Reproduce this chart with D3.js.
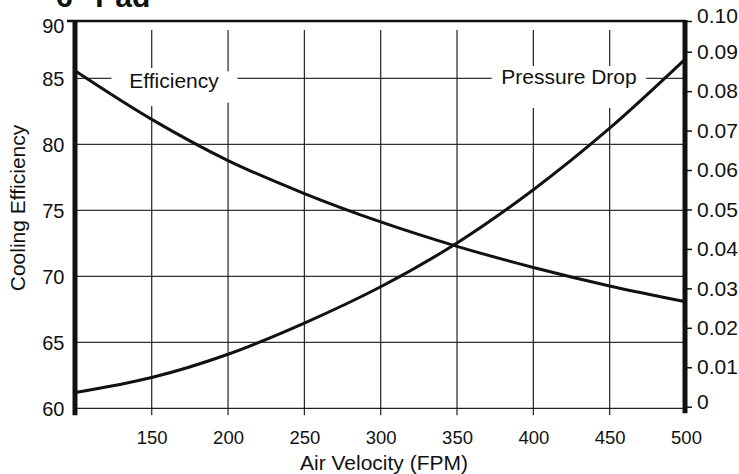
<!DOCTYPE html>
<html>
<head>
<meta charset="utf-8">
<script src="https://cdn.jsdelivr.net/npm/d3@7"></script>
<style>
  html, body { margin: 0; padding: 0; background: #fff; }
  svg { display: block; font-family: "Liberation Sans", Arial, Helvetica, sans-serif; }
</style>
</head>
<body>
<svg id="chart" width="739" height="474"></svg>
<script>
// ---- data ----
const velocity = [100, 150, 200, 250, 300, 350, 400, 450, 500];
const efficiency = [85.64, 81.89, 78.77, 76.27, 74.12, 72.27, 70.67, 69.27, 68.07];
const pressureDrop = [0.0036, 0.0074, 0.0133, 0.0212, 0.0304, 0.0415, 0.0550, 0.0706, 0.0883];
const xTicks = [150, 200, 250, 300, 350, 400, 450, 500];
const xGrid = [150, 200, 250, 300, 350, 400, 450];
const leftTicks = [60, 65, 70, 75, 80, 85, 90];
const leftGrid = [65, 70, 75, 80, 85];
const rightTicks = [0, 0.01, 0.02, 0.03, 0.04, 0.05, 0.06, 0.07, 0.08, 0.09, 0.10];
const title = '6" Pad';
const xTitle = "Air Velocity (FPM)";
const yTitle = "Cooling Efficiency";
const effLabel = "Efficiency";
const pdLabel = "Pressure Drop";

// ---- layout ----
(function () {
const svg = d3.select("#chart");
const xL = 75.4, xR = 686;
const x = d3.scaleLinear().domain([100, 500]).range([xL, xR]);
const yL = d3.scaleLinear().domain([60, 85, 90]).range([408.3, 78.3, 21]);
const yR = d3.scaleLinear().domain([0, 0.09, 0.10]).range([406.7, 51.7, 21]);
const yTop = 21, yBottom = yL(60);
const ink = "#111";

// gridlines
svg.append("g").selectAll("line").data(leftGrid).join("line")
  .attr("x1", xL).attr("x2", xR - 1)
  .attr("y1", d => yL(d)).attr("y2", d => yL(d))
  .attr("stroke", "#333").attr("stroke-width", 1.3);
svg.append("g").selectAll("line").data(xGrid).join("line")
  .attr("x1", d => x(d)).attr("x2", d => x(d))
  .attr("y1", 30).attr("y2", yBottom + 7)
  .attr("stroke", "#222").attr("stroke-width", 1.2);
svg.append("line").attr("x1", xL).attr("x2", xR).attr("y1", yBottom).attr("y2", yBottom)
  .attr("stroke", "#222").attr("stroke-width", 1.3);

// label boxes (white knock-outs)
svg.append("rect").attr("x", 108).attr("y", 68).attr("width", 133).attr("height", 38)
  .attr("rx", 30).attr("ry", 19).attr("fill", "#fff");
svg.append("rect").attr("x", 489).attr("y", 66).attr("width", 160).attr("height", 42)
  .attr("rx", 30).attr("ry", 21).attr("fill", "#fff");

// curves
const effLine = d3.line().x((d, i) => x(velocity[i])).y(d => yL(d)).curve(d3.curveCatmullRom);
const pdLine = d3.line().x((d, i) => x(velocity[i])).y(d => yR(d)).curve(d3.curveCatmullRom);
svg.append("path").attr("d", effLine(efficiency)).attr("fill", "none")
  .attr("stroke", ink).attr("stroke-width", 3);
svg.append("path").attr("d", pdLine(pressureDrop)).attr("fill", "none")
  .attr("stroke", ink).attr("stroke-width", 3);

// frame
svg.append("line").attr("x1", 67).attr("x2", xR).attr("y1", yTop).attr("y2", yTop)
  .attr("stroke", ink).attr("stroke-width", 2.5);
svg.append("line").attr("x1", xL - 0.4).attr("x2", xL - 0.4).attr("y1", yTop - 1).attr("y2", yBottom + 7)
  .attr("stroke", ink).attr("stroke-width", 5);
svg.append("line").attr("x1", 685).attr("x2", 685).attr("y1", yTop - 1).attr("y2", yBottom + 5)
  .attr("stroke", ink).attr("stroke-width", 5);

// axes
const gLeft = svg.append("g").attr("transform", `translate(${xL},0)`)
  .call(d3.axisLeft(yL).tickValues(leftTicks).tickSize(0).tickPadding(11).tickFormat(d3.format("d")));
gLeft.select(".domain").remove();
gLeft.selectAll("text").attr("font-size", 20).attr("fill", ink)
  .attr("dy", d => d === 90 ? "0.55em" : "0.35em");
gLeft.attr("font-family", null);

const gBottom = svg.append("g").attr("transform", `translate(0,${yBottom})`)
  .call(d3.axisBottom(x).tickValues(xTicks).tickSize(7).tickPadding(16).tickFormat(d3.format("d")));
gBottom.select(".domain").remove();
gBottom.selectAll("line").remove();
gBottom.selectAll("text").attr("font-size", 18.5).attr("fill", ink);
gBottom.attr("font-family", null);

const gRight = svg.append("g").attr("transform", `translate(685,0)`)
  .call(d3.axisRight(yR).tickValues(rightTicks).tickSize(7).tickPadding(5)
    .tickFormat(d => d === 0 ? "0" : d3.format(".2f")(d)));
gRight.select(".domain").remove();
gRight.selectAll("line").attr("stroke", ink).attr("stroke-width", 1.5);
gRight.selectAll("text").attr("font-size", 21).attr("fill", ink)
  .attr("dy", d => d === 0 ? "0.1em" : (d === 0.1 ? "0.05em" : "0.32em"));
gRight.attr("font-family", null);

// curve labels
svg.append("text").attr("x", 174).attr("y", 88).attr("text-anchor", "middle")
  .attr("font-size", 21).attr("fill", ink).text(effLabel);
svg.append("text").attr("x", 569).attr("y", 83.5).attr("text-anchor", "middle")
  .attr("font-size", 21).attr("fill", ink).text(pdLabel);

// axis titles
svg.append("text").attr("x", 384).attr("y", 469.5).attr("text-anchor", "middle")
  .attr("font-size", 21).attr("fill", ink).text(xTitle);
svg.append("text").attr("transform", "translate(25,208) rotate(-90)").attr("text-anchor", "middle")
  .attr("font-size", 21).attr("fill", ink).text(yTitle);

// title (cropped at top, as in the original)
svg.append("text").attr("x", 56).attr("y", 7).attr("font-size", 30).attr("font-weight", "bold")
  .attr("fill", ink).text(title);
})();
</script>
</body>
</html>
